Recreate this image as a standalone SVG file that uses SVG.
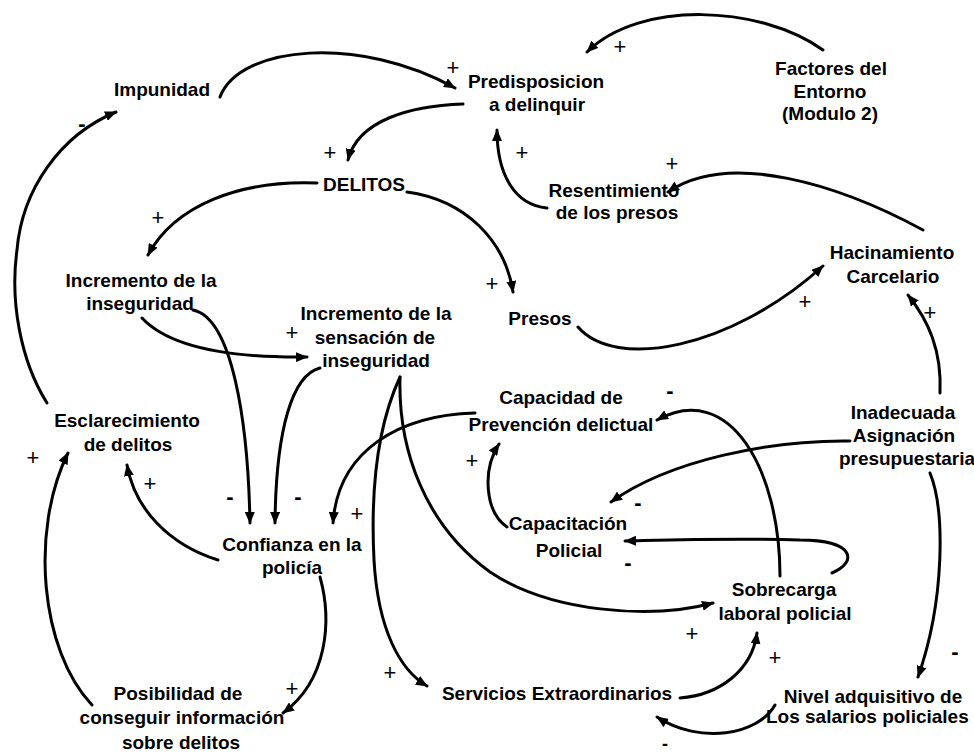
<svg xmlns="http://www.w3.org/2000/svg" width="974" height="755" viewBox="0 0 974 755">
<defs>
<style>
.n{font-family:"Liberation Sans",Arial,sans-serif;font-size:19px;font-weight:bold;fill:#000;text-anchor:middle}
.p{font-family:"Liberation Sans",Arial,sans-serif;font-size:22px;fill:#000;text-anchor:middle}
.m{font-family:"Liberation Sans",Arial,sans-serif;font-size:22px;font-weight:bold;fill:#000;text-anchor:middle}
.c{fill:none;stroke:#000;stroke-width:3;stroke-linecap:round;marker-end:url(#ah)}
</style>
<marker id="ah" viewBox="0 0 12 10" refX="11" refY="5" markerWidth="12" markerHeight="10" markerUnits="userSpaceOnUse" orient="auto">
<path d="M0,0 L12,5 L0,10 z" fill="#000"/>
</marker>
</defs>
<rect width="974" height="755" fill="#fff"/>
<g id="connectors">
<path class="c" d="M 220 97 C 240 45, 360 35, 455 88"/>
<path class="c" d="M 463 104 C 410 106, 358 120, 348 160"/>
<path class="c" d="M 823 50 C 760 5, 640 0, 587 52"/>
<path class="c" d="M 547 208 C 515 205, 497 175, 497 130"/>
<path class="c" d="M 923 230 C 840 185, 730 150, 668 192"/>
<path class="c" d="M 317 183 C 240 180, 175 205, 148 255"/>
<path class="c" d="M 407 192 C 465 200, 505 240, 513 292"/>
<path class="c" d="M 578 327 C 615 370, 730 350, 823 266"/>
<path class="c" d="M 940 393 C 942 350, 928 320, 908 295"/>
<path class="c" d="M 47 403 C 20 360, 10 300, 17 250 C 22 190, 60 135, 116 112"/>
<path class="c" d="M 142 318 C 170 348, 230 358, 307 357"/>
<path class="c" d="M 193 310 C 232 318, 248 420, 250 523"/>
<path class="c" d="M 320 368 C 292 375, 276 430, 275 523"/>
<path class="c" d="M 475 413 C 400 415, 338 450, 333 523"/>
<path class="c" d="M 400 377 C 380 420, 370 480, 374 560 C 378 630, 400 670, 427 686"/>
<path class="c" d="M 400 377 C 398 450, 425 525, 490 572 C 550 612, 650 620, 713 603"/>
<path class="c" d="M 507 527 C 485 512, 482 470, 499 444"/>
<path class="c" d="M 780 576 C 780 470, 730 380, 657 420"/>
<path class="c" d="M 832 573 C 858 562, 855 540, 800 540 C 730 538, 670 540, 625 541"/>
<path class="c" d="M 850 441 C 770 440, 670 460, 611 502"/>
<path class="c" d="M 930 473 C 945 510, 945 600, 918 677"/>
<path class="c" d="M 775 705 C 758 735, 700 745, 657 717"/>
<path class="c" d="M 680 698 C 720 695, 752 670, 757 633"/>
<path class="c" d="M 320 577 C 332 620, 328 680, 283 713"/>
<path class="c" d="M 92 705 C 40 650, 30 530, 68 453"/>
<path class="c" d="M 218 560 C 170 545, 135 510, 127 465"/>
</g>
<g id="polarities">
<text class="p" x="453" y="75">+</text>
<text class="p" x="330" y="160">+</text>
<text class="p" x="620" y="54">+</text>
<text class="p" x="522" y="160">+</text>
<text class="p" x="672" y="171">+</text>
<text class="p" x="158" y="225">+</text>
<text class="p" x="492" y="291">+</text>
<text class="p" x="805" y="309">+</text>
<text class="p" x="930" y="320">+</text>
<text class="m" x="82" y="131">-</text>
<text class="p" x="292" y="340">+</text>
<text class="m" x="230" y="504">-</text>
<text class="m" x="298" y="504">-</text>
<text class="p" x="357" y="521">+</text>
<text class="p" x="390" y="680">+</text>
<text class="p" x="692" y="641">+</text>
<text class="p" x="472" y="468">+</text>
<text class="m" x="670" y="398">-</text>
<text class="m" x="628" y="570">-</text>
<text class="m" x="638" y="510">-</text>
<text class="m" x="955" y="659">-</text>
<text class="m" x="665" y="750" style="font-size:18px">-</text>
<text class="p" x="775" y="665">+</text>
<text class="p" x="292" y="696">+</text>
<text class="p" x="33" y="465">+</text>
<text class="p" x="150" y="491">+</text>
</g>
<g id="impunidad"><text class="n" x="162" y="96">Impunidad</text></g>
<g id="predisposicion"><text class="n" x="536" y="88">Predisposicion</text><text class="n" x="537" y="111">a delinquir</text></g>
<g id="factores"><text class="n" x="831" y="75">Factores del</text><text class="n" x="830" y="98">Entorno</text><text class="n" x="830" y="120">(Modulo 2)</text></g>
<g id="delitos"><text class="n" x="364" y="191">DELITOS</text></g>
<g id="resentimiento"><text class="n" x="614" y="197">Resentimiento</text><text class="n" x="617" y="219">de los presos</text></g>
<g id="hacinamiento"><text class="n" x="892" y="259">Hacinamiento</text><text class="n" x="893" y="283">Carcelario</text></g>
<g id="inseguridad"><text class="n" x="141" y="287">Incremento de la</text><text class="n" x="140" y="310">inseguridad</text></g>
<g id="sensacion"><text class="n" x="376" y="320">Incremento de la</text><text class="n" x="375" y="344">sensación de</text><text class="n" x="376" y="367">inseguridad</text></g>
<g id="presos"><text class="n" x="540" y="325">Presos</text></g>
<g id="esclarecimiento"><text class="n" x="127" y="427">Esclarecimiento</text><text class="n" x="128" y="451">de delitos</text></g>
<g id="capacidad"><text class="n" x="561" y="404">Capacidad de</text><text class="n" x="561" y="431">Prevención delictual</text></g>
<g id="capacitacion"><text class="n" x="568" y="530">Capacitación</text><text class="n" x="569" y="557">Policial</text></g>
<g id="inadecuada"><text class="n" x="903" y="419">Inadecuada</text><text class="n" x="904" y="442">Asignación</text><text class="n" x="907" y="465">presupuestaria</text></g>
<g id="confianza"><text class="n" x="292" y="551">Confianza en la</text><text class="n" x="292" y="574">policía</text></g>
<g id="sobrecarga"><text class="n" x="784" y="596">Sobrecarga</text><text class="n" x="785" y="620">laboral policial</text></g>
<g id="servicios"><text class="n" x="557" y="700">Servicios Extraordinarios</text></g>
<g id="nivel"><text class="n" x="873" y="703">Nivel adquisitivo de</text><text class="n" x="766" y="723" style="text-anchor:start">Los salarios policiales</text></g>
<g id="posibilidad"><text class="n" x="178" y="700">Posibilidad de</text><text class="n" x="182" y="724">conseguir información</text><text class="n" x="181" y="749">sobre delitos</text></g>
</svg>
